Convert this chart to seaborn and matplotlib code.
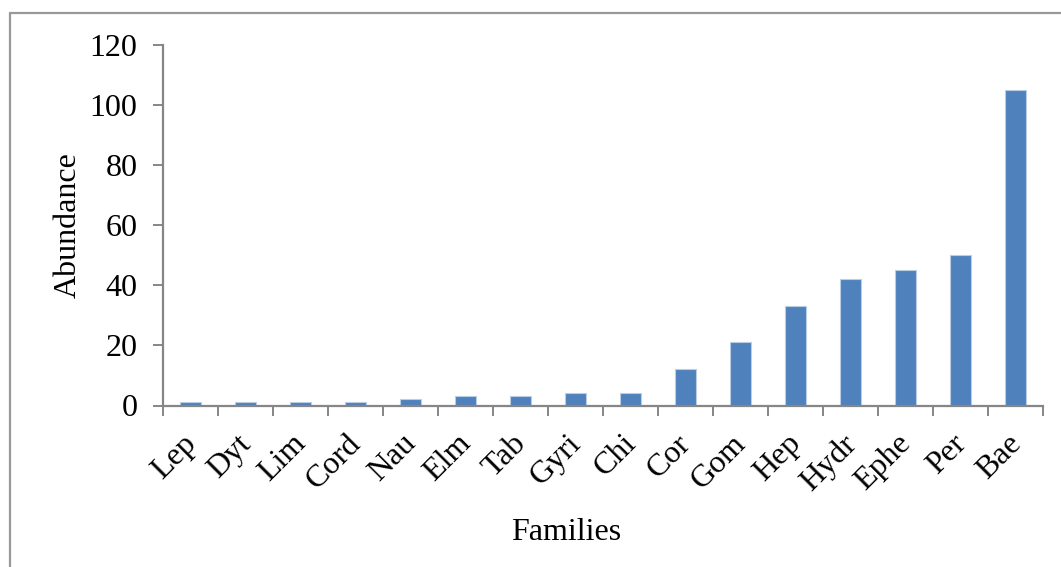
import matplotlib
matplotlib.use("Agg")
import matplotlib.pyplot as plt
from matplotlib.lines import Line2D
from matplotlib.transforms import ScaledTranslation
import seaborn as sns
import pandas as pd

families = ["Lep", "Dyt", "Lim", "Cord", "Nau", "Elm", "Tab", "Gyri", "Chi",
            "Cor", "Gom", "Hep", "Hydr", "Ephe", "Per", "Bae"]
abundance = [1, 1, 1, 1, 2, 3, 3, 4, 4, 12, 21, 33, 42, 45, 50, 105]
y_ticks = [0, 20, 40, 60, 80, 100, 120]

df = pd.DataFrame({"Families": families, "Abundance": abundance})

sns.set_theme(style="white")
plt.rcParams["font.family"] = ["Liberation Serif", "DejaVu Serif"]
plt.rcParams["text.color"] = "black"
plt.rcParams["axes.labelcolor"] = "black"
plt.rcParams["xtick.labelcolor"] = "black"
plt.rcParams["ytick.labelcolor"] = "black"

W, H = 1061, 567
fig = plt.figure(figsize=(W / 100, H / 100), dpi=100)
ax = fig.add_axes([163 / W, 1 - 405.5 / H, (1043 - 163) / W, (405.5 - 45) / H])

sns.barplot(data=df, x="Families", y="Abundance", ax=ax, color="#4F81BD",
            saturation=1, width=0.39, edgecolor="#B9CDE5", linewidth=0.8)

axis_grey = "#868686"
ax.set_xlim(-0.5, len(families) - 0.5)
ax.set_ylim(0, 120)
ax.set_yticks(y_ticks)
ax.set_xticks([i - 0.5 for i in range(len(families) + 1)], minor=True)
ax.set_xticks(range(len(families)))

for side in ["top", "right"]:
    ax.spines[side].set_visible(False)
for side in ["left", "bottom"]:
    ax.spines[side].set_color(axis_grey)
    ax.spines[side].set_linewidth(1.6)

ax.tick_params(axis="y", which="major", direction="out", length=7.5, width=1.4,
               color=axis_grey, labelsize=23, pad=11, left=True)
ax.tick_params(axis="x", which="major", length=0, labelsize=23, pad=12)
ax.tick_params(axis="x", which="minor", direction="out", length=7.5, width=1.4,
               color=axis_grey, bottom=True)

ax.set_xticklabels(families, rotation=45, ha="right", va="top",
                   rotation_mode="anchor")
shift = ScaledTranslation(-9 / 100, -7 / 100, fig.dpi_scale_trans)
for lbl in ax.get_xticklabels():
    lbl.set_transform(lbl.get_transform() + shift)

ax.set_xlabel("Families", fontsize=23)
ax.xaxis.set_label_coords((566 - 163) / (1043 - 163), -(532 - 405.5) / (405.5 - 45))
ax.xaxis.label.set_va("center")
ax.set_ylabel("Abundance", fontsize=23, labelpad=5)

# Chart frame
fig.add_artist(Line2D([10 / W, 10 / W], [0, 1 - 13 / H], transform=fig.transFigure,
                      color="#999999", linewidth=1.6))
fig.add_artist(Line2D([10 / W, 1], [1 - 13 / H, 1 - 13 / H], transform=fig.transFigure,
                      color="#999999", linewidth=1.6))

fig.savefig("out.png", dpi=100, facecolor="white")
